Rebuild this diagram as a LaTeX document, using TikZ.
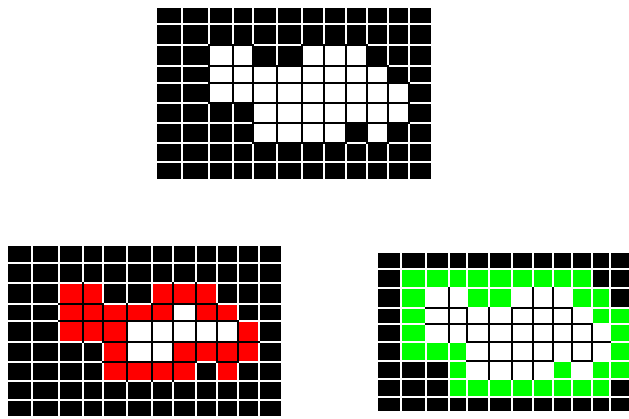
\documentclass[tikz,border=0pt]{standalone}
\definecolor{col0}{RGB}{0,0,0}
\definecolor{col1}{RGB}{255,255,255}
\definecolor{col2}{RGB}{255,0,0}
\definecolor{col3}{RGB}{0,255,0}
\def\gp{0.9}
% column / row boundaries (pixels)
\def\topxs{{156,181.7,209.3,232.7,252.7,276.7,301.7,324,346,367.3,388,409.3,431.7}}
\def\topys{{6.7,24.3,45,66,83.3,103.3,123.3,142.7,161.7,180}}
\def\lftxs{{6.7,31.7,59.3,82.7,102.7,126.7,151.7,173.3,196,217.3,238,259.3,281.7}}
\def\lftys{{245,263.3,283.3,304,321,341.7,361.7,380.7,400,416.7}}
\def\rgtxs{{377.3,400.7,426,449.3,467.3,489.3,511.7,532.7,552.7,571.7,591.7,610,632}}
\def\rgtys{{251.7,269,287.7,307.7,324.3,341.7,361,379,396.7,411.7}}
% cell values: 0 black, 1 white, 2 red, 3 green
\def\topvals{{0,0,0,0,0,0,0,0,0,0,0,0,
0,0,0,0,0,0,0,0,0,0,0,0,
0,0,1,1,0,0,1,1,1,0,0,0,
0,0,1,1,1,1,1,1,1,1,0,0,
0,0,1,1,1,1,1,1,1,1,1,0,
0,0,0,0,1,1,1,1,1,1,1,0,
0,0,0,0,1,1,1,1,0,1,0,0,
0,0,0,0,0,0,0,0,0,0,0,0,
0,0,0,0,0,0,0,0,0,0,0,0}}
\def\lftvals{{0,0,0,0,0,0,0,0,0,0,0,0,
0,0,0,0,0,0,0,0,0,0,0,0,
0,0,2,2,0,0,2,2,2,0,0,0,
0,0,2,2,2,2,2,1,2,2,0,0,
0,0,2,2,2,1,1,1,1,1,2,0,
0,0,0,0,2,1,1,2,2,2,2,0,
0,0,0,0,2,2,2,2,0,2,0,0,
0,0,0,0,0,0,0,0,0,0,0,0,
0,0,0,0,0,0,0,0,0,0,0,0}}
\def\rgtvals{{0,0,0,0,0,0,0,0,0,0,0,0,
0,3,3,3,3,3,3,3,3,3,0,0,
0,3,1,1,3,3,1,1,1,3,3,0,
0,3,1,1,1,1,1,1,1,1,3,3,
0,3,1,1,1,1,1,1,1,1,1,3,
0,3,3,3,1,1,1,1,1,1,1,3,
0,0,0,3,1,1,1,1,3,1,3,3,
0,0,0,3,3,3,3,3,3,3,3,0,
0,0,0,0,0,0,0,0,0,0,0,0}}
% #1 xs, #2 ys, #3 values, #4 condition for a black line between cells \ga and \gb
\newcommand\pixgrid[4]{%
  \pgfmathsetmacro\gxa{#1[0]}\pgfmathsetmacro\gxb{#1[12]}%
  \pgfmathsetmacro\gya{#2[0]}\pgfmathsetmacro\gyb{#2[9]}%
  \fill[white] (\gxa,\gya) rectangle (\gxb,\gyb);
  \foreach \gr in {0,...,8}{\foreach \gc in {0,...,11}{%
    \pgfmathsetmacro\xl{#1[\gc]}\pgfmathsetmacro\xr{#1[\gc+1]}%
    \pgfmathsetmacro\yt{#2[\gr]}\pgfmathsetmacro\yb{#2[\gr+1]}%
    \pgfmathtruncatemacro\gv{#3[\gr*12+\gc]}%
    \fill[col\gv] (\xl+\gp,\yt+\gp) rectangle (\xr-\gp,\yb-\gp);
  }}
  \foreach \gr in {0,...,8}{\foreach \gc in {0,...,11}{%
    \pgfmathsetmacro\xl{#1[\gc]}\pgfmathsetmacro\xr{#1[\gc+1]}%
    \pgfmathsetmacro\yt{#2[\gr]}\pgfmathsetmacro\yb{#2[\gr+1]}%
    \pgfmathtruncatemacro\ga{#3[\gr*12+\gc]}%
    \ifnum\gc<11
      \pgfmathtruncatemacro\gb{#3[\gr*12+\gc+1]}%
      \pgfmathtruncatemacro\gt{#4}%
      \ifnum\gt=1 \fill[black] (\xr-\gp,\yt-\gp) rectangle (\xr+\gp,\yb+\gp);\fi
    \fi
    \ifnum\gr<8
      \pgfmathtruncatemacro\gb{#3[\gr*12+\gc+12]}%
      \pgfmathtruncatemacro\gt{#4}%
      \ifnum\gt=1 \fill[black] (\xl-\gp,\yb-\gp) rectangle (\xr+\gp,\yb+\gp);\fi
    \fi
  }}
}
\begin{document}
\begin{tikzpicture}[x=1pt,y=-1pt]
\useasboundingbox (0,0) rectangle (629,418);
\fill[white] (0,0) rectangle (629,418);
\pixgrid{\topxs}{\topys}{\topvals}{or(\ga==1,\gb==1)}
\pixgrid{\lftxs}{\lftys}{\lftvals}{and(\ga>0,\gb>0)}
\pixgrid{\rgtxs}{\rgtys}{\rgtvals}{and(\ga==1,\gb==1)}
\end{tikzpicture}
\end{document}
